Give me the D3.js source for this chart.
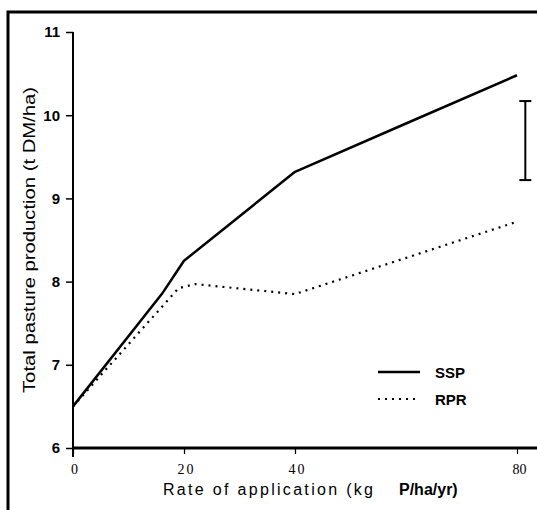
<!DOCTYPE html>
<html lang="en">
<head>
    <meta charset="UTF-8">
    <title>Total pasture production</title>
    <script src="https://cdn.jsdelivr.net/npm/d3@7"></script>
    <style>
        body { margin: 0; background: #fff; }
        svg { display: block; }
    </style>
</head>
<body>
<div id="out01"></div>
<script>

// rate of application (kg P/ha/yr) and production (t DM/ha)
const ssp_rate = [0, 16, 20, 40, 60, 80];
const ssp_prod = [6.5, 7.85, 8.25, 9.32, 9.9, 10.48];
const rpr_rate = [0, 19, 22, 40, 80];
const rpr_prod = [6.5, 7.92, 7.97, 7.85, 8.72];

const x_ticks = [0, 20, 40, 80];
const y_ticks = [6, 7, 8, 9, 10, 11];

// lsd bar drawn to the right of the 80 point
const lsd_rate = 81.5;
const lsd_range = [9.22, 10.17];

const legend_names = ["SSP", "RPR"];

const width = 537;
const height = 510;

const svg = d3.select("#out01").append("svg")
    .attr("width", width)
    .attr("height", height);

const x = d3.scaleLinear().domain([0, 80]).range([73, 517]);
const y = d3.scaleLinear().domain([6, 11]).range([448, 32]);

// frame around figure (only top and left are inside the picture)
svg.append("path")
    .attr("d", `M8,${height + 5} V12 H${width + 5}`)
    .attr("fill", "none")
    .attr("stroke", "#000")
    .attr("stroke-width", 3);

// y axis
const yAxis = svg.append("g")
    .attr("transform", `translate(${x(0)},0)`)
    .call(d3.axisLeft(y).tickValues(y_ticks).tickSize(7).tickPadding(6).tickFormat(d3.format("d")));
yAxis.select(".domain").remove();
yAxis.selectAll(".tick line").attr("stroke", "#000").attr("stroke-width", 1.5);
yAxis.selectAll(".tick text")
    .attr("font-family", "Liberation Sans, Arial, sans-serif")
    .attr("font-size", 15)
    .attr("font-weight", "bold")
    .attr("fill", "#000");
svg.append("line")
    .attr("x1", x(0)).attr("x2", x(0))
    .attr("y1", y(11)).attr("y2", y(6) + 9)
    .attr("stroke", "#000")
    .attr("stroke-width", 2);

// x axis
const xAxis = svg.append("g")
    .attr("transform", `translate(0,${y(6)})`)
    .call(d3.axisBottom(x).tickValues(x_ticks).tickSize(6).tickPadding(10).tickFormat(d3.format("d")));
xAxis.select(".domain").remove();
xAxis.selectAll(".tick line").attr("stroke", "#000").attr("stroke-width", 1.2);
xAxis.selectAll(".tick text")
    .attr("font-family", "Liberation Serif, Times New Roman, serif")
    .attr("font-size", 14)
    .attr("letter-spacing", d => d == 80 ? 0 : 2)
    .attr("dx", 2)
    .attr("fill", "#000");
svg.append("line")
    .attr("x1", x(0)).attr("x2", width + 5)
    .attr("y1", y(6)).attr("y2", y(6))
    .attr("stroke", "#000")
    .attr("stroke-width", 3);

// axis titles
svg.append("text")
    .attr("transform", `translate(35,${(87 + 393) / 2}) rotate(-90)`)
    .attr("text-anchor", "middle")
    .attr("font-family", "Liberation Sans, Arial, sans-serif")
    .attr("font-size", 17)
    .attr("textLength", 306)
    .attr("lengthAdjust", "spacingAndGlyphs")
    .text("Total pasture production (t DM/ha)");

const xTitle = svg.append("text")
    .attr("x", 163)
    .attr("y", 495)
    .attr("font-family", "Liberation Sans, Arial, sans-serif")
    .attr("fill", "#000");
xTitle.append("tspan")
    .attr("font-size", 16)
    .attr("textLength", 210)
    .attr("lengthAdjust", "spacing")
    .text("Rate of application (kg");
xTitle.append("tspan")
    .attr("x", 399)
    .attr("font-size", 16)
    .attr("font-weight", "bold")
    .text("P/ha/yr)");

// series
const line = d3.line().x(d => x(d[0])).y(d => y(d[1]));

svg.append("path")
    .datum(d3.zip(ssp_rate, ssp_prod))
    .attr("d", line)
    .attr("fill", "none")
    .attr("stroke", "#000")
    .attr("stroke-width", 2.5)
    .attr("stroke-linejoin", "round");

svg.append("path")
    .datum(d3.zip(rpr_rate, rpr_prod))
    .attr("d", line)
    .attr("fill", "none")
    .attr("stroke", "#000")
    .attr("stroke-width", 2.2)
    .attr("stroke-dasharray", "2 5");

// lsd bar
const lsd = svg.append("g").attr("stroke", "#000").attr("stroke-width", 2);
lsd.append("line")
    .attr("x1", x(lsd_rate)).attr("x2", x(lsd_rate))
    .attr("y1", y(lsd_range[0])).attr("y2", y(lsd_range[1]));
lsd_range.forEach(v => {
    lsd.append("line")
        .attr("x1", x(lsd_rate) - 6).attr("x2", x(lsd_rate) + 6)
        .attr("y1", y(v)).attr("y2", y(v));
});

// legend
const legend = svg.append("g").attr("transform", "translate(378,372)");
legend_names.forEach((name, i) => {
    const row = legend.append("g").attr("transform", `translate(0,${i * 27})`);
    row.append("line")
        .attr("x1", 0).attr("x2", 42)
        .attr("stroke", "#000")
        .attr("stroke-width", i == 0 ? 2.5 : 2)
        .attr("stroke-dasharray", i == 0 ? null : "2 5");
    row.append("text")
        .attr("x", 57)
        .attr("y", 6)
        .attr("font-family", "Liberation Sans, Arial, sans-serif")
        .attr("font-size", 15)
        .attr("font-weight", "bold")
        .text(name);
});
</script>
</body>
</html>
